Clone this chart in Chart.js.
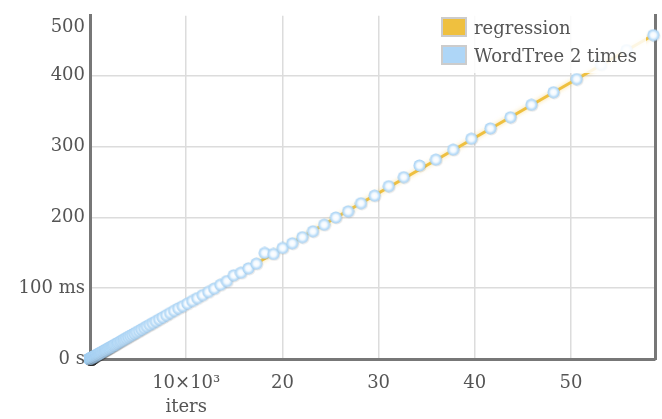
<!DOCTYPE html>
<html>
<head>
<meta charset="utf-8">
<script src="https://cdn.jsdelivr.net/npm/chart.js@4/dist/chart.umd.min.js"></script>
<style>
  body { margin:0; background:#fff; }
  #wrap { position:relative; width:662px; height:419px; }
  #legend { position:absolute; left:432px; top:9px; width:214px; padding:4px 0 4px 9px; box-sizing:border-box;
            background:rgba(255,255,255,0.85); font:18px 'DejaVu Serif', serif; color:#555; }
  #legend .item { display:flex; align-items:center; height:28px; }
  #legend .sw { width:22px; height:16px; border:2px solid #ccc; margin-right:7px; }
</style>
</head>
<body>
<div id="wrap">
  <canvas id="regChart" width="662" height="419"></canvas>
  <div id="legend"></div>
</div>
<script>
// ── data ──
const ITERS = [1,2,3,4,5,6,7,8,9,10,11,12,13,14,15,16,17,18,19,20,21,22,23,25,26,27,28,30,31,33,35,36,38,40,42,44,47,49,52,54,57,60,63,66,69,73,76,80,84,89,93,98,103,108,113,119,125,131,138,144,152,159,167,176,185,194,204,214,224,236,247,260,273,287,301,316,332,348,366,384,403,424,445,467,490,515,541,568,596,626,657,690,725,761,799,839,881,925,972,1020,1071,1125,1181,1240,1302,1367,1436,1507,1583,1662,1745,1832,1924,2020,2121,2227,2339,2456,2579,2708,2843,2985,3134,3291,3456,3629,3810,4001,4201,4411,4631,4863,5106,5361,5629,5911,6207,6517,6843,7185,7544,7921,8318,8733,9170,9629,10110,10616,11146,11704,12289,12903,13549,14226,14937,15684,16469,17292,18157,19065,20018,21019,22070,23173,24332,25549,26826,28167,29576,31054,32607,34238,35950,37747,39634,41616,43697,45882,48176,50585,53114,55770,58558];
const TIME_MS = [0.01,0.02,0.02,0.03,0.04,0.05,0.06,0.06,0.07,0.08,0.09,0.09,0.10,0.11,0.12,0.13,0.13,0.14,0.15,0.16,0.16,0.17,0.18,0.20,0.20,0.21,0.22,0.23,0.24,0.26,0.27,0.28,0.30,0.31,0.33,0.34,0.37,0.38,0.41,0.42,0.44,0.47,0.49,0.52,0.54,0.57,0.59,0.62,0.66,0.69,0.73,0.76,0.80,0.84,0.88,0.93,0.98,1.02,1.08,1.12,1.19,1.24,1.30,1.37,1.44,1.51,1.59,1.67,1.75,1.84,1.93,2.03,2.13,2.24,2.35,2.46,2.59,2.71,2.85,3.00,3.14,3.31,3.47,3.64,3.82,4.02,4.22,4.43,4.65,4.88,5.12,5.38,5.66,5.94,6.23,6.54,6.87,7.22,7.58,7.96,8.35,8.78,9.21,9.67,10.16,10.66,11.20,11.75,12.35,12.96,13.61,14.29,15.01,15.76,16.54,17.37,18.24,19.16,20.12,21.12,22.18,23.28,24.45,25.67,26.96,28.31,29.72,31.21,32.77,34.41,36.12,37.93,39.83,41.82,43.91,46.11,48.41,50.83,53.38,56.04,58.84,61.78,64.88,68.12,71.5,74.6,78.2,81.9,86.0,90.2,94.7,99.4,104.8,110.1,118.2,121.8,128.0,134.6,149.7,148.3,156.8,163.4,172.0,180.3,189.6,199.8,208.5,220.0,230.6,244.1,256.8,273.3,281.6,295.6,311.0,325.6,341.3,359.0,376.7,395.2,415.4,436.3,457.4];
const REG_X = [0, 58558];
const REG_MS = [0, 457.4];

const X_TICKS = [10000, 20000, 30000, 40000, 50000];
const X_TICK_LABELS = [['10×10³', 'iters'], '20', '30', '40', '50'];
const Y_TICKS = [0, 100, 200, 300, 400, 468];
const Y_TICK_LABELS = ['0 s', '100 ms', '200', '300', '400', '500'];

const SERIES_LABELS = ['regression', 'WordTree 2 times'];
const SERIES_COLORS = ['#efc03f', '#aed6f7'];

// ── point glyph: white centre, pale blue ring ──
function bubble() {
  const c = document.createElement('canvas');
  c.width = c.height = 13;
  const g = c.getContext('2d');
  const grad = g.createRadialGradient(6.5, 6.5, 0, 6.5, 6.5, 6);
  grad.addColorStop(0, '#ffffff');
  grad.addColorStop(0.45, '#f4faff');
  grad.addColorStop(0.72, '#c4e2fa');
  grad.addColorStop(1, '#a3cff2');
  g.fillStyle = grad;
  g.beginPath(); g.arc(6.5, 6.5, 6, 0, Math.PI * 2); g.fill();
  return c;
}

const shadows = {
  id: 'shadows',
  beforeDatasetDraw(chart, args) {
    const ctx = chart.ctx;
    ctx.save();
    if (args.index === 1) {
      ctx.shadowColor = 'rgba(40,40,40,0.1)';
      ctx.shadowBlur = 1.5; ctx.shadowOffsetX = 1; ctx.shadowOffsetY = 1;
    } else {
      ctx.shadowColor = 'rgba(240,192,64,0.55)';
      ctx.shadowBlur = 4;
    }
  },
  afterDatasetDraw(chart) { chart.ctx.restore(); }
};

Chart.defaults.font.family = "'DejaVu Serif', serif";
Chart.defaults.font.size = 18;
Chart.defaults.color = '#555';

const axisGrey = '#777';
const gridGrey = '#dcdcdc';

const chart = new Chart(document.getElementById('regChart'), {
  type: 'scatter',
  data: {
    datasets: [
      { label: SERIES_LABELS[0], data: REG_X.map((x, i) => ({ x, y: REG_MS[i] })),
        showLine: true, borderColor: SERIES_COLORS[0], borderWidth: 3, pointRadius: 0, order: 2 },
      { label: SERIES_LABELS[1], data: ITERS.map((x, i) => ({ x, y: TIME_MS[i] })),
        pointStyle: bubble(), pointRadius: 6, backgroundColor: SERIES_COLORS[1], clip: false, order: 1 }
    ]
  },
  options: {
    responsive: false, animation: false,
    layout: { padding: { top: 12 } },
    plugins: { legend: { display: false }, tooltip: { enabled: false } },
    scales: {
      x: {
        type: 'linear', min: 0, max: 58730,
        afterBuildTicks: s => { s.ticks = X_TICKS.map(v => ({ value: v })); },
        afterFit: s => { s.height = 60; },
        ticks: { callback: (v, i) => X_TICK_LABELS[i], padding: 13, maxRotation: 0, autoSkip: false, font: { lineHeight: 1.3 } },
        grid: { color: gridGrey, lineWidth: 1.5, drawTicks: false },
        border: { color: axisGrey, width: 3 }
      },
      y: {
        min: 0, max: 484.6,
        afterBuildTicks: s => { s.ticks = Y_TICKS.map(v => ({ value: v })); },
        afterFit: s => { s.width = 90; },
        ticks: { callback: (v, i) => Y_TICK_LABELS[i], padding: 5, autoSkip: false },
        grid: { color: c => (c.tick && c.tick.value === 468) ? 'rgba(0,0,0,0)' : gridGrey, lineWidth: 1.5, drawTicks: false },
        border: { color: axisGrey, width: 3 }
      },
      y2: {
        position: 'right', min: 0, max: 484.6,
        afterFit: s => { s.width = 6; },
        ticks: { display: false },
        grid: { display: false, drawTicks: false },
        border: { color: axisGrey, width: 3 }
      }
    }
  },
  plugins: [shadows]
});

// html legend from the datasets
document.getElementById('legend').innerHTML = chart.data.datasets.map((d, i) =>
  `<div class="item"><span class="sw" style="background:${SERIES_COLORS[i]}"></span>${d.label}</div>`).join('');
</script>
</body>
</html>
